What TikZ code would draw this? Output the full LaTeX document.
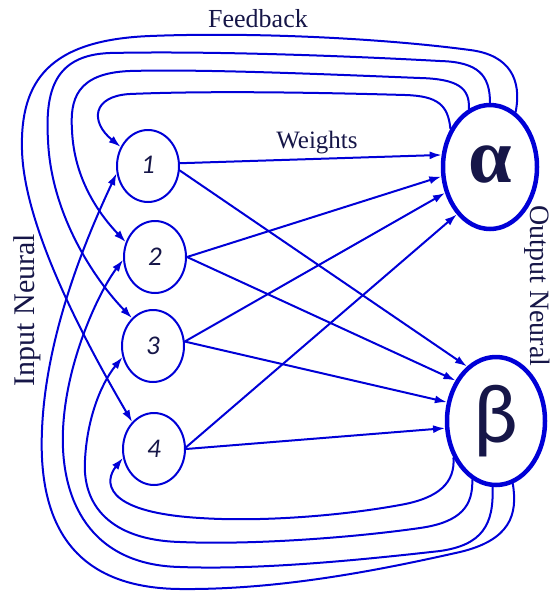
\documentclass[tikz,border=0pt]{standalone}
\usepackage{fontspec}
\setmainfont{Liberation Serif}
\newfontfamily\numfont{Carlito}
\usepackage{tikz}
\usetikzlibrary{arrows.meta, shapes.geometric}
\definecolor{netBlue}{RGB}{0,0,215}
\definecolor{netNavy}{RGB}{22,22,72}
\tikzset{
	inNeuron/.style={ellipse, draw=netBlue, line width=2pt, minimum width=62pt, minimum height=72pt, inner sep=0pt, text=netNavy, font=\numfont\itshape\fontsize{27}{27}\selectfont},
	outNeuron/.style={ellipse, draw=netBlue, line width=4.5pt, minimum width=94pt, minimum height=124pt, inner sep=0pt, text=netNavy},
	wire/.style={draw=netBlue, line width=2pt, -{Latex[length=12pt,width=8pt]}},
	netLabel/.style={text=netNavy, inner sep=0pt}
}

\begin{document}
\begin{tikzpicture}[x=1pt, y=-1pt, line cap=round]
	\useasboundingbox (0,0) rectangle (558,592);

	% neurons
	\node[inNeuron] (in1) at (148,166) {\raisebox{2pt}{1}};
	\node[inNeuron] (in2) at (155,257) {2};
	\node[inNeuron] (in3) at (153,346) {3};
	\node[inNeuron] (in4) at (154,449) {4};
	\node[outNeuron, font=\bfseries\fontsize{78}{78}\selectfont] (alpha) at (490,167) {\raisebox{6pt}{α}};
	\node[outNeuron, minimum width=98pt, minimum height=128pt, font=\numfont\fontsize{84}{84}\selectfont] (beta) at (496,421) {β};

	% labels
	\node[netLabel, font=\fontsize{26}{26}\selectfont] (fbLabel) at (258,19) {Feedback};
	\node[netLabel, font=\fontsize{25}{25}\selectfont] (wLabel) at (317,143) {Weights};
	\node[netLabel, rotate=90, font=\fontsize{30}{30}\selectfont] (inLabel) at (27,310) {Input Neural};
	\node[netLabel, rotate=-90, font=\fontsize{28}{28}\selectfont] (outLabel) at (537,286) {Output Neural};

	% weights
	\draw[wire] (in1.5) -- (alpha.166);
	\draw[wire] (in1.-8) -- (beta.118);
	\draw[wire] (in2.east) -- (alpha.191);
	\draw[wire] (in2.east) -- (beta.135);
	\draw[wire] (in3.8) -- (alpha.210);
	\draw[wire] (in3.8) -- (beta.159);
	\draw[wire] (in4.3) -- (alpha.235);
	\draw[wire] (in4.east) -- (beta.188);

	% feedback from alpha
	\draw[wire] (alpha.136) .. controls (448,105) and (438,96) .. (405,95) .. controls (300,92) and (200,91) .. (130,94) .. controls (92,96) and (90,122) .. (in1.145);
	\draw[wire] (alpha.110) .. controls (470,88) and (458,79) .. (420,78) .. controls (320,74) and (200,69) .. (130,71) .. controls (76,73) and (70,100) .. (72,130) .. controls (74,180) and (100,215) .. (in2.153);
	\draw[wire] (alpha.90) .. controls (490,75) and (478,62) .. (440,61) .. controls (330,55) and (200,51) .. (110,53) .. controls (55,55) and (45,90) .. (48,140) .. controls (51,215) and (95,280) .. (in3.127);
	\draw[wire] (alpha.65) .. controls (522,80) and (510,55) .. (470,50) .. controls (380,38) and (250,32) .. (150,36) .. controls (50,40) and (20,80) .. (22,150) .. controls (24,230) and (90,350) .. (in4.129);

	% feedback from beta
	\draw[wire] (beta.221) .. controls (455,482) and (440,498) .. (400,505) .. controls (340,516) and (260,522) .. (200,518) .. controls (100,512) and (105,480) .. (in4.196);
	\draw[wire] (beta.248) .. controls (473,505) and (462,522) .. (420,528) .. controls (350,538) and (250,545) .. (180,542) .. controls (110,540) and (82,505) .. (85,460) .. controls (87,420) and (100,385) .. (in3.200);
	\draw[wire] (beta.267) .. controls (494,525) and (482,545) .. (440,551) .. controls (360,560) and (260,570) .. (180,567) .. controls (90,565) and (60,500) .. (63,430) .. controls (66,360) and (100,290) .. (in2.185);
	\draw[wire] (beta.285) .. controls (518,515) and (510,540) .. (460,552) .. controls (380,570) and (280,590) .. (180,589) .. controls (70,588) and (38,520) .. (42,430) .. controls (46,330) and (90,230) .. (in1.193);

\end{tikzpicture}
\end{document}
